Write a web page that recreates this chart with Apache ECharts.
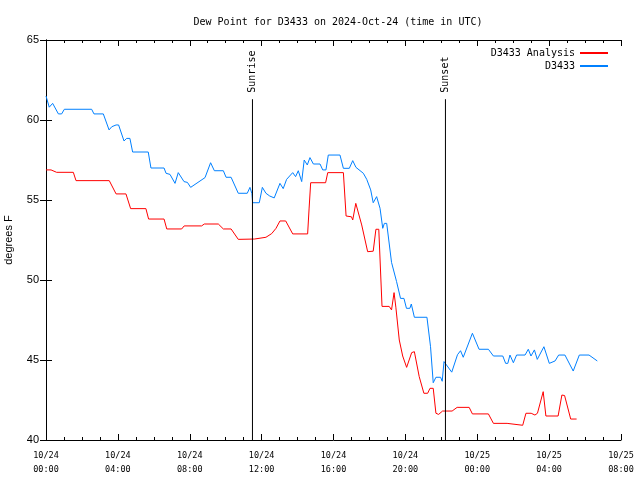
<!DOCTYPE html>
<html>
<head>
<meta charset="utf-8">
<script src="https://cdn.jsdelivr.net/npm/echarts@6/dist/echarts.min.js"></script>
<style>html,body{margin:0;padding:0;background:#fff}#c{width:640px;height:480px}</style>
</head>
<body>
<div id="c"></div>
<script>
// Hours since 2024-10-24 00:00 UTC
var stationHours = [0,0.18,0.37,0.69,0.87,1.02,2.54,2.67,3.19,3.51,3.66,3.9,4.04,4.34,4.49,4.67,4.82,5.69,5.84,6.57,6.68,6.9,7.18,7.36,7.68,7.87,8.05,8.85,9.16,9.37,9.87,10.02,10.3,10.7,11.2,11.35,11.46,11.5,11.87,12.04,12.24,12.45,12.7,13.02,13.2,13.39,13.73,13.89,14.04,14.23,14.37,14.54,14.69,14.88,15.25,15.4,15.58,15.71,16.36,16.55,16.88,17.07,17.25,17.66,17.85,18.07,18.21,18.4,18.59,18.74,18.83,18.96,19.23,19.51,19.73,19.92,20.06,20.25,20.33,20.5,21.2,21.4,21.55,21.7,21.96,22.05,22.15,22.58,22.9,23.07,23.22,23.73,24.1,24.62,24.9,25.42,25.58,25.7,25.82,26.01,26.19,26.66,26.84,26.99,27.18,27.34,27.71,28.01,28.33,28.53,28.88,29.34,29.68,30.22,30.68];
var stationValues = [61.5,60.8,61.04,60.38,60.38,60.67,60.67,60.38,60.38,59.38,59.58,59.69,59.69,58.69,58.85,58.85,58.0,58.0,57.0,57.0,56.67,56.6,56.04,56.71,56.15,56.1,55.79,56.4,57.33,56.83,56.83,56.42,56.42,55.42,55.42,55.79,55.4,54.83,54.83,55.79,55.42,55.25,55.13,56.04,55.71,56.29,56.71,56.46,56.83,56.15,57.5,57.19,57.65,57.25,57.25,56.88,56.88,57.81,57.81,56.98,56.98,57.46,57.04,56.67,56.29,55.63,54.83,55.21,54.48,53.23,53.54,53.54,51.1,49.9,48.85,48.85,48.23,48.23,48.5,47.67,47.67,45.83,43.58,43.92,43.92,43.67,44.9,44.24,45.33,45.58,45.17,46.67,45.67,45.67,45.25,45.25,44.79,44.79,45.31,44.83,45.31,45.31,45.67,45.25,45.63,45.04,45.83,44.79,44.94,45.31,45.31,44.31,45.31,45.31,44.94];
var analysisHours = [0,0.28,0.59,1.52,1.67,3.52,3.9,4.45,4.71,5.56,5.71,6.57,6.72,7.55,7.69,8.66,8.81,9.59,9.87,10.3,10.7,11.6,12.24,12.56,12.8,13.02,13.34,13.73,14.56,14.64,14.73,15.56,15.68,16.55,16.7,17.0,17.07,17.24,17.57,17.9,18.21,18.36,18.52,18.7,19.1,19.23,19.37,19.47,19.66,19.85,20.07,20.35,20.5,20.77,21.03,21.24,21.37,21.55,21.7,21.85,22.07,22.6,22.88,23.55,23.73,24.62,24.9,25.66,25.69,26.53,26.71,27.0,27.21,27.35,27.67,27.82,28.5,28.71,28.86,29.2,29.53];
var analysisValues = [56.88,56.88,56.73,56.73,56.21,56.21,55.38,55.38,54.46,54.46,53.81,53.81,53.19,53.19,53.38,53.38,53.5,53.5,53.19,53.19,52.54,52.56,52.67,52.9,53.23,53.69,53.69,52.88,52.88,54.44,56.08,56.08,56.71,56.71,54.0,53.95,53.75,54.79,53.44,51.77,51.8,53.17,53.17,48.35,48.35,48.13,49.21,48.3,46.25,45.25,44.54,45.46,45.52,43.96,42.92,42.92,43.23,43.23,41.67,41.6,41.81,41.81,42.04,42.04,41.63,41.63,41.04,41.04,40.92,40.92,41.67,41.67,41.56,41.67,43.02,41.5,41.5,42.81,42.78,41.31,41.31];
var sunEvents = ['Sunrise', 'Sunset'];
var sunHours = [11.49, 22.23];
var sunLineTop = 61.3;
var yTicks = [40, 45, 50, 55, 60, 65];
var xTickDays = ['10/24','10/24','10/24','10/24','10/24','10/24','10/25','10/25','10/25'];
var xTickTimes = ['00:00','04:00','08:00','12:00','16:00','20:00','00:00','04:00','08:00'];

function pairs(h, v) { return h.map(function (x, i) { return [x, v[i]]; }); }

var mono = 'DejaVu Sans Mono';
var series = [
  { name: 'D3433 Analysis', type: 'line', data: pairs(analysisHours, analysisValues),
    symbol: 'none', lineStyle: { color: '#ff0000', width: 1 }, itemStyle: { color: '#ff0000' }, z: 3 },
  { name: 'D3433', type: 'line', data: pairs(stationHours, stationValues),
    symbol: 'none', lineStyle: { color: '#0080ff', width: 1 }, itemStyle: { color: '#0080ff' }, z: 3 }
];
sunEvents.forEach(function (name, i) {
  series.push({
    name: name, type: 'line', symbol: 'none', silent: true, z: 4,
    lineStyle: { color: '#000', width: 1 },
    data: [[sunHours[i], yTicks[0]], [sunHours[i], sunLineTop]]
  });
  series.push({
    name: name + ' label', type: 'scatter', silent: true, z: 5,
    symbol: 'rect', symbolSize: 1, itemStyle: { color: 'rgba(0,0,0,0)' },
    data: [[sunHours[i], sunLineTop]],
    label: { show: true, formatter: name, position: 'top', distance: 6, rotate: 90,
      align: 'left', verticalAlign: 'middle', fontFamily: mono, fontSize: 10, color: '#000', opacity: 1 }
  });
});

var chart = echarts.init(document.getElementById('c'), null, { renderer: 'canvas' });
chart.setOption({
  animation: false,
  backgroundColor: '#fff',
  title: { text: 'Dew Point for D3433 on 2024-Oct-24 (time in UTC)', left: 333, top: 12, textAlign: 'center',
    textStyle: { fontFamily: mono, fontSize: 10, fontWeight: 'normal', color: '#000' } },
  legend: { data: ['D3433 Analysis', 'D3433'], orient: 'vertical', right: 26, top: 43, align: 'right',
    itemWidth: 28, itemHeight: 10, itemGap: 3, itemStyle: { opacity: 0 },
    textStyle: { fontFamily: mono, fontSize: 10, color: '#000' } },
  grid: { left: 46, right: 19, top: 40, bottom: 40, outerBoundsMode: 'none', containLabel: false },
  xAxis: [
    { type: 'value', min: 0, max: 32, interval: 4, position: 'bottom',
      axisLine: { lineStyle: { color: '#000', width: 1 } },
      axisTick: { inside: true, length: 6, lineStyle: { color: '#000' } },
      minorTick: { show: true, splitNumber: 4, length: 3, lineStyle: { color: '#000' } },
      splitLine: { show: false },
      axisLabel: { fontFamily: mono, fontSize: 8.5, color: '#000', margin: 9, lineHeight: 14,
        formatter: function (v) { var i = Math.round(v / 4); return xTickDays[i] + '\n' + xTickTimes[i]; } } },
    { type: 'value', min: 0, max: 32, interval: 4, position: 'top',
      axisLine: { lineStyle: { color: '#000', width: 1 } },
      axisTick: { inside: true, length: 6, lineStyle: { color: '#000' } },
      minorTick: { show: true, splitNumber: 4, length: 3, lineStyle: { color: '#000' } },
      splitLine: { show: false }, axisLabel: { show: false } }
  ],
  yAxis: [
    { type: 'value', min: yTicks[0], max: yTicks[yTicks.length - 1], interval: 5, position: 'left',
      name: 'degrees F', nameLocation: 'middle', nameGap: 32, nameRotate: 90,
      nameTextStyle: { fontFamily: 'Liberation Sans', fontSize: 11, color: '#000' },
      axisLine: { show: true, lineStyle: { color: '#000', width: 1 } },
      axisTick: { show: true, inside: true, length: 6, lineStyle: { color: '#000' } },
      splitLine: { show: false },
      axisLabel: { fontFamily: 'Liberation Sans', fontSize: 11, color: '#000', margin: 7 } },
    { type: 'value', min: yTicks[0], max: yTicks[yTicks.length - 1], interval: 5, position: 'right',
      axisLine: { show: true, lineStyle: { color: '#000', width: 1 } },
      axisTick: { show: true, inside: true, length: 6, lineStyle: { color: '#000' } },
      splitLine: { show: false }, axisLabel: { show: false } }
  ],
  series: series
});
</script>
</body>
</html>
